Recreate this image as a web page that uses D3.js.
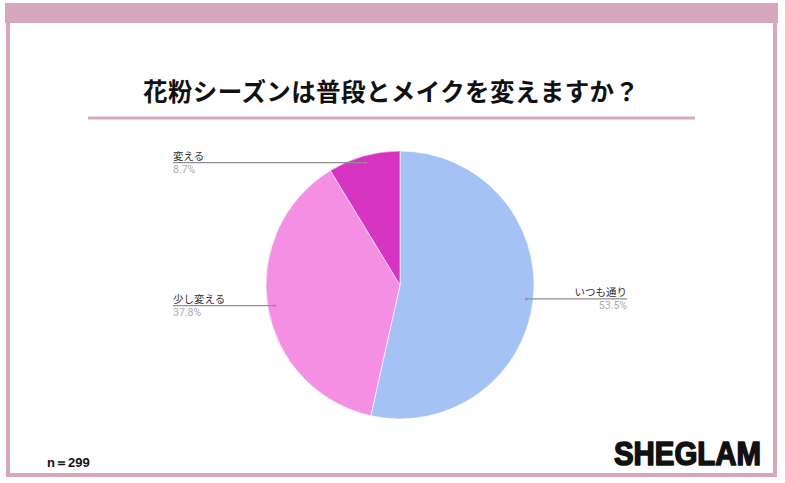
<!DOCTYPE html>
<html><head><meta charset="utf-8">
<script src="https://cdn.jsdelivr.net/npm/d3@7"></script>
<style>body{margin:0;background:#fff}svg{display:block}</style>
</head><body>
<svg id="c" width="785" height="483"></svg>
<script>
const title = "花粉シーズンは普段とメイクを変えますか？";
const categories = ["いつも通り", "少し変える", "変える"];
const values = [53.5, 37.8, 8.7];
const colors = ["#a4c2f4", "#f48fe4", "#d633c1"];
const sampleLabel = "n＝299";
const brand = "SHEGLAM";

const svg = d3.select("#c");
const frame = "#d6a7bd";
// frame
svg.append("rect").attr("x",5).attr("y",3).attr("width",773).attr("height",20).attr("fill",frame);
svg.append("rect").attr("x",8).attr("y",13).attr("width",767).attr("height",462)
  .attr("fill","none").attr("stroke",frame).attr("stroke-width",4);

// title
svg.append("text").attr("x",391).attr("y",101).attr("text-anchor","middle")
  .attr("font-family","'Noto Sans CJK JP'").attr("font-weight",700).attr("font-size",24.5)
  .attr("textLength",496).attr("lengthAdjust","spacing")
  .attr("fill","#111").text(title);
svg.append("rect").attr("x",88).attr("y",116.5).attr("width",607).attr("height",3).attr("fill","#d4a9bf");

// pie
const cx = 400, cy = 285, R = 134;
const g = svg.append("g").attr("transform",`translate(${cx},${cy})`);
const pie = d3.pie().sort(null).value(d=>d.v);
const data = pie(categories.map((c,i)=>({c, v:values[i], col:colors[i]})));
const arc = d3.arc().innerRadius(0).outerRadius(R);
g.selectAll("path").data(data).join("path").attr("d",arc).attr("fill",d=>d.data.col)
  .attr("stroke","#fff").attr("stroke-width",0.6);

// labels
const anchorArc = d3.arc().innerRadius(127).outerRadius(127);
const leftX = 173, rightX = 627;
data.forEach(d=>{
  const [ax, ay] = anchorArc.centroid(d);
  const px = cx+ax, py = cy+ay;
  const right = px > cx;
  const lx = right ? rightX : leftX;
  svg.append("line").attr("x1",px).attr("y1",py).attr("x2",lx).attr("y2",py)
    .attr("stroke","#8f8f8f").attr("stroke-width",1.3);
  svg.append("circle").attr("cx",px).attr("cy",py).attr("r",1.5).attr("fill","#b67aa8").attr("opacity",0.7);
  svg.append("text").attr("x",lx).attr("y",py-3).attr("text-anchor",right?"end":"start")
    .attr("font-family","'Noto Sans CJK JP'").attr("font-size",10.5).attr("fill","#333").text(d.data.c);
  svg.append("text").attr("x",lx).attr("y",py+10.5).attr("text-anchor",right?"end":"start")
    .attr("font-family","Roboto, 'Noto Sans'").attr("font-size",10.5).attr("fill","#aaa").text(d.data.v.toFixed(1)+"%");
});

// footer
svg.append("text").attr("x",47).attr("y",467).attr("font-family","'Liberation Sans', Arial")
  .attr("font-weight",700).attr("font-size",13).attr("fill","#111").text(sampleLabel);
svg.append("text").attr("x",614).attr("y",465).attr("font-family","'Liberation Sans', Arial")
  .attr("font-weight",900).attr("font-size",33).attr("textLength",147).attr("lengthAdjust","spacingAndGlyphs")
  .attr("fill","#111").attr("stroke","#111").attr("stroke-width",1.6).attr("stroke-linejoin","round").text(brand);
</script>
</body></html>
